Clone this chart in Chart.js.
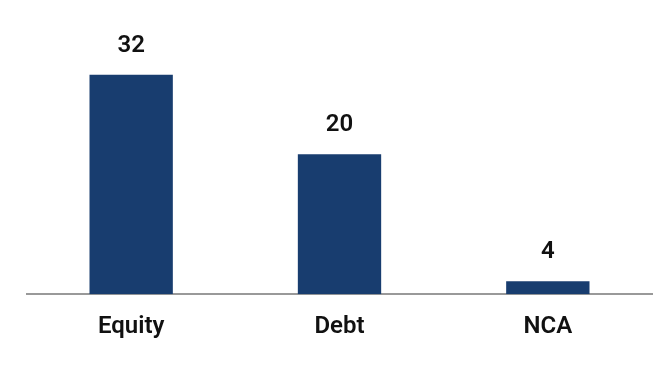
<!DOCTYPE html>
<html>
<head>
<meta charset="utf-8">
<script src="https://cdn.jsdelivr.net/npm/chart.js@4"></script>
<style>
  html, body { margin: 0; padding: 0; background: #fff; }
  #wrap { width: 669px; height: 373px; }
</style>
</head>
<body>
<div id="wrap"><canvas id="myBarChart"></canvas></div>
<script>
// дані з картинки
const categories = ['Equity', 'Debt', 'NCA'];
const barValues = [32, 20.4, 1.9];
const valueLabels = ['32', '20', '4'];

// підписи над стовпчиками
const topLabels = {
  id: 'topLabels',
  afterDatasetsDraw(chart) {
    const ctx = chart.ctx;
    const meta = chart.getDatasetMeta(0);
    ctx.save();
    ctx.font = '600 24px Roboto';
    ctx.fillStyle = '#111';
    ctx.textAlign = 'center';
    ctx.textBaseline = 'alphabetic';
    meta.data.forEach((bar, i) => {
      ctx.fillText(valueLabels[i], bar.x, bar.y - 23);
    });
    ctx.restore();
  }
};

const ctx = document.getElementById('myBarChart').getContext('2d');

let myBarChart = new Chart(ctx, {
  type: 'bar',
  data: {
    labels: categories,
    datasets: [{
      data: barValues,
      backgroundColor: '#183d6f',
      categoryPercentage: 1,
      barPercentage: 0.4
    }]
  },
  options: {
    responsive: true,
    maintainAspectRatio: false,
    animation: false,
    layout: { padding: { left: 27, right: 17, top: 20, bottom: 22 } },
    plugins: {
      legend: { display: false },
      tooltip: { enabled: false }
    },
    scales: {
      x: {
        grid: { display: false },
        border: { display: true, color: '#999', width: 2 },
        ticks: {
          color: '#111',
          padding: 10,
          font: { family: 'Roboto', size: 24, weight: '600' }
        }
      },
      y: {
        display: false,
        min: 0,
        max: 40
      }
    }
  },
  plugins: [topLabels]
});
</script>
</body>
</html>
